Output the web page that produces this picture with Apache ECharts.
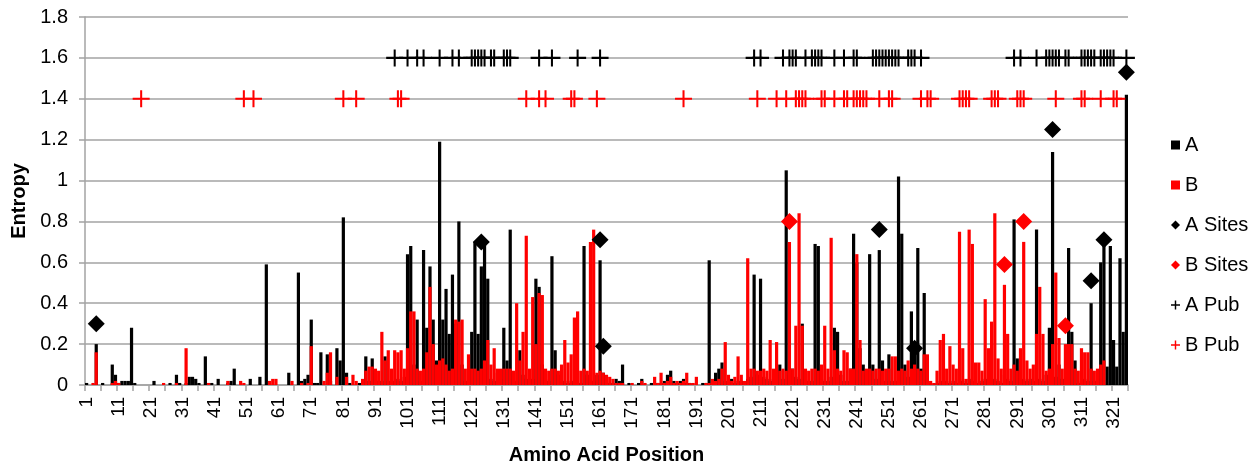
<!DOCTYPE html>
<html>
<head>
<meta charset="utf-8">
<script src="https://cdn.jsdelivr.net/npm/echarts/dist/echarts.min.js"></script>
<style>
html,body{margin:0;padding:0;background:#fff;}
#chart{width:1254px;height:465px;}
</style>
</head>
<body>
<div id="chart"></div>
<script>
// Amino acid positions 1..325
const positions = [];
for (let i = 1; i <= 325; i++) positions.push(String(i));

// Entropy, series A (black bars), positions 1..325
const entropyA = [
0.01,0,0,0.20,0,0.01,0,0,0.10,0.05,
0.01,0.02,0.02,0.02,0.28,0.01,0,0,0,0,
0,0.02,0,0,0,0,0.01,0,0.05,0.01,
0,0.01,0.04,0.04,0.03,0.01,0,0.14,0,0.01,
0,0.03,0,0,0.01,0.02,0.08,0,0,0,
0,0.03,0,0,0.04,0,0.59,0,0,0,
0,0,0,0.06,0,0,0.55,0.02,0.03,0.05,
0.32,0.01,0.01,0.16,0,0.15,0.02,0,0.18,0.12,
0.82,0.06,0.01,0,0,0.01,0,0.14,0.02,0.13,
0,0.02,0.02,0.14,0.02,0.02,0.02,0.03,0.02,0.04,
0.64,0.68,0.10,0.32,0.02,0.66,0.28,0.58,0.32,0.12,
1.19,0.32,0.47,0.25,0.54,0.30,0.80,0.10,0.02,0.02,
0.26,0.70,0.25,0.58,0.70,0.52,0.03,0.02,0.06,0.03,
0.28,0.12,0.76,0.03,0.02,0.17,0.05,0.03,0.02,0.03,
0.52,0.48,0.10,0.03,0.02,0.63,0.17,0.05,0.01,0.02,
0.01,0.02,0.01,0.01,0.01,0.68,0.05,0.01,0.02,0.05,
0.61,0.06,0.02,0.01,0.01,0.03,0.02,0.10,0,0.01,
0,0,0.01,0.03,0,0,0.01,0,0.01,0.01,
0.02,0.05,0.07,0.02,0.01,0.02,0.03,0.01,0.01,0,
0,0,0.01,0.01,0.61,0.01,0.06,0.08,0.11,0.02,
0.01,0.03,0.01,0.02,0.02,0.01,0.03,0.04,0.54,0.05,
0.52,0.04,0.03,0.02,0.03,0.02,0.10,0.03,1.05,0.05,
0.08,0.04,0.03,0.30,0.03,0.02,0.02,0.69,0.68,0.03,
0.02,0.02,0.04,0.28,0.26,0.05,0.02,0.02,0.08,0.74,
0.60,0.18,0.10,0.05,0.64,0.10,0.03,0.66,0.12,0.02,
0.15,0.02,0.02,1.02,0.74,0.10,0.04,0.36,0.18,0.67,
0.08,0.45,0.03,0.01,0,0.01,0.02,0.01,0.02,0.01,
0.02,0.01,0.03,0.02,0.01,0.03,0.02,0.02,0.01,0.02,
0.03,0.02,0.02,0.03,0.02,0.01,0.05,0.03,0.02,0.81,
0.13,0.02,0.03,0.02,0.03,0.02,0.76,0.03,0.02,0.05,
0.28,1.14,0.04,0.10,0.03,0.03,0.67,0.26,0.12,0.01,
0.02,0.03,0.02,0.40,0.02,0.03,0.60,0.70,0.09,0.68,
0.22,0.09,0.62,0.26,1.42
];

// Entropy, series B (red bars), positions 1..325
const entropyB = [
0,0,0.01,0.16,0,0,0,0,0.01,0.02,
0.01,0,0,0,0,0,0,0,0,0,
0,0,0,0,0.01,0,0,0,0.01,0,
0,0.18,0,0,0,0,0,0,0.01,0,
0,0,0,0,0.02,0,0,0,0.02,0.01,
0,0,0,0,0,0,0,0.02,0.03,0.03,
0,0,0,0,0.02,0,0,0.01,0,0.01,
0.19,0,0,0,0.02,0.06,0.16,0,0.04,0,
0,0.04,0,0.05,0.02,0,0.03,0.07,0.09,0.09,
0.08,0.07,0.26,0.12,0.17,0.08,0.17,0.16,0.17,0.08,
0.18,0.36,0.36,0.08,0.07,0.08,0.16,0.48,0.20,0.10,
0.12,0.13,0.10,0.07,0.08,0.32,0.31,0.32,0.08,0.15,
0.08,0.08,0.07,0.08,0.12,0.22,0.10,0.18,0.08,0.08,
0.08,0.08,0.08,0.07,0.40,0.12,0.26,0.73,0.08,0.43,
0.20,0.45,0.44,0.08,0.07,0.08,0.08,0.07,0.10,0.22,
0.11,0.15,0.33,0.36,0.07,0.08,0.07,0.70,0.76,0.06,
0.07,0.06,0.05,0.04,0.03,0.01,0.01,0.01,0,0,
0.01,0,0,0.02,0.01,0,0,0.04,0.01,0.06,
0.01,0.02,0.04,0.01,0.02,0.01,0.02,0.06,0.01,0.01,
0.04,0,0,0.01,0.01,0.03,0.02,0.03,0.08,0.21,
0.05,0.02,0.04,0.14,0.05,0.02,0.62,0.08,0.08,0.07,
0.07,0.08,0.07,0.22,0.08,0.21,0.07,0.08,0.07,0.70,
0.08,0.29,0.84,0.29,0.08,0.07,0.08,0.08,0.07,0.10,
0.29,0.08,0.72,0.17,0.08,0.07,0.17,0.16,0.08,0.08,
0.64,0.22,0.07,0.08,0.08,0.07,0.08,0.08,0.07,0.08,
0.08,0.14,0.14,0.07,0.08,0.07,0.12,0.08,0.10,0.08,
0.07,0.15,0.15,0.02,0.01,0.07,0.22,0.25,0.08,0.19,
0.10,0.08,0.75,0.18,0.03,0.76,0.69,0.11,0.11,0.07,
0.42,0.18,0.31,0.84,0.13,0.08,0.49,0.25,0.08,0.10,
0.07,0.18,0.70,0.12,0.08,0.10,0.25,0.48,0.25,0.07,
0.08,0.20,0.55,0.23,0.08,0.20,0.20,0.20,0.08,0.07,
0.18,0.16,0.16,0.08,0.07,0.08,0.10,0.12,0,0,
0,0,0,0,0
];

// Sites (position, entropy)
const aSitePos = [4, 124, 161, 162, 248, 259, 302, 314, 318, 325];
const aSiteVal = [0.30, 0.70, 0.71, 0.19, 0.76, 0.18, 1.25, 0.51, 0.71, 1.53];
const bSitePos = [220, 287, 293, 306];
const bSiteVal = [0.80, 0.59, 0.80, 0.29];

// Published positions (plotted at fixed levels)
const aPubLevel = 1.6;
const aPubPos = [97,101,104,106,111,115,117,121,122,123,124,125,127,128,131,132,133,142,146,154,161,
  209,211,218,220,221,222,225,227,228,229,230,234,237,240,241,246,247,248,249,250,251,252,253,254,
  257,258,259,261,290,292,297,300,301,302,303,304,306,307,311,312,313,314,315,317,318,319,320,321,325];
const bPubLevel = 1.4;
const bPubPos = [18,50,53,81,85,98,99,138,142,144,152,153,160,187,210,216,219,222,223,224,225,
  230,231,234,237,238,240,241,242,243,244,248,251,252,261,263,264,273,274,275,276,283,284,285,
  291,292,293,303,311,312,317,321,322];

// Y axis ticks
const yMin = 0, yMax = 1.8, yStep = 0.2;

const PLUS = 'path://M-0.12,-1 L0.12,-1 L0.12,-0.12 L1,-0.12 L1,0.12 L0.12,0.12 L0.12,1 L-0.12,1 L-0.12,0.12 L-1,0.12 L-1,-0.12 L-0.12,-0.12 Z';
const PLUS_ICON = 'path://M-0.16,-1 L0.16,-1 L0.16,-0.16 L1,-0.16 L1,0.16 L0.16,0.16 L0.16,1 L-0.16,1 L-0.16,0.16 L-1,0.16 L-1,-0.16 L-0.16,-0.16 Z';
const FONT = '"Liberation Sans", Arial, sans-serif';
const GRID_COLOR = '#a3a3a3';

const chart = echarts.init(document.getElementById('chart'), null, {renderer: 'canvas'});
chart.setOption({
  backgroundColor: '#ffffff',
  animation: false,
  textStyle: {fontFamily: FONT},
  grid: {left: 85, right: 126, top: 17, bottom: 80, containLabel: false, outerBoundsMode: 'none'},
  legend: {
    orient: 'vertical', left: 1166, top: 130,
    itemWidth: 9, itemHeight: 9, itemGap: 20,
    textStyle: {fontFamily: FONT, fontSize: 20, color: '#000', lineHeight: 20},
    data: [
      {name: 'A', icon: 'rect'},
      {name: 'B', icon: 'rect'},
      {name: 'A Sites', icon: 'diamond'},
      {name: 'B Sites', icon: 'diamond'},
      {name: 'A Pub', icon: PLUS_ICON},
      {name: 'B Pub', icon: PLUS_ICON}
    ]
  },
  xAxis: {
    type: 'category',
    data: positions,
    boundaryGap: true,
    name: 'Amino Acid Position',
    nameLocation: 'middle',
    nameGap: 60,
    nameTextStyle: {fontFamily: FONT, fontSize: 20, fontWeight: 'bold', color: '#000'},
    axisLine: {show: true, lineStyle: {color: GRID_COLOR, width: 1.5}},
    axisTick: {show: true, interval: 4, length: 6, lineStyle: {color: GRID_COLOR, width: 1.5}},
    axisLabel: {interval: 9, rotate: 90, margin: 12, fontFamily: FONT, fontSize: 19, color: '#000'},
    splitLine: {show: false}
  },
  yAxis: {
    type: 'value',
    min: yMin, max: yMax, interval: yStep,
    name: 'Entropy',
    nameLocation: 'middle',
    nameGap: 56,
    nameRotate: 90,
    nameTextStyle: {fontFamily: FONT, fontSize: 20, fontWeight: 'bold', color: '#000'},
    axisLine: {show: true, lineStyle: {color: GRID_COLOR, width: 1.5}},
    axisTick: {show: true, length: 6, lineStyle: {color: GRID_COLOR, width: 1.5}},
    axisLabel: {margin: 17, fontFamily: FONT, fontSize: 20, color: '#000'},
    splitLine: {show: true, lineStyle: {color: GRID_COLOR, width: 1.5}}
  },
  series: [
    {name: 'A', type: 'bar', data: entropyA, barGap: '-100%', barCategoryGap: '0%',
     itemStyle: {color: '#000000'}, z: 2},
    {name: 'B', type: 'bar', data: entropyB, barGap: '-100%', barCategoryGap: '0%',
     itemStyle: {color: '#ff0000'}, z: 3},
    {name: 'A Sites', type: 'scatter', symbol: 'diamond', symbolSize: 17,
     data: aSitePos.map((p, i) => [String(p), aSiteVal[i]]),
     itemStyle: {color: '#000000', opacity: 1}, z: 5},
    {name: 'B Sites', type: 'scatter', symbol: 'diamond', symbolSize: 17,
     data: bSitePos.map((p, i) => [String(p), bSiteVal[i]]),
     itemStyle: {color: '#ff0000', opacity: 1}, z: 5},
    {name: 'A Pub', type: 'scatter', symbol: PLUS, symbolSize: 17,
     data: aPubPos.map(p => [String(p), aPubLevel]),
     itemStyle: {color: '#000000', opacity: 1}, z: 4},
    {name: 'B Pub', type: 'scatter', symbol: PLUS, symbolSize: 17,
     data: bPubPos.map(p => [String(p), bPubLevel]),
     itemStyle: {color: '#ff0000', opacity: 1}, z: 4}
  ]
});
</script>
</body>
</html>
